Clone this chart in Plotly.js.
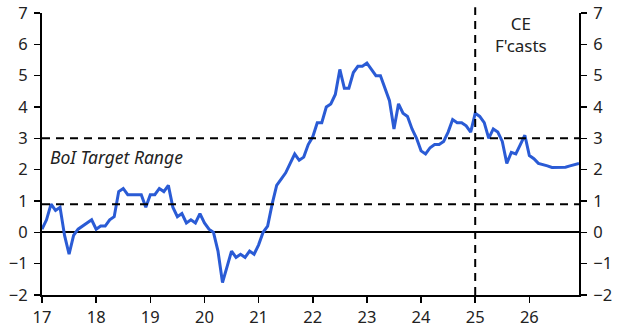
<!DOCTYPE html>
<html><head><meta charset="utf-8">
<script src="https://cdn.plot.ly/plotly-3.0.1.min.js"></script>
<style>body{margin:0;padding:0;background:#fff}#chart{width:624px;height:336px}</style>
</head><body><div id="chart"></div>
<script>
// Israel CPI inflation (% y/y), monthly Jan 2017 – Dec 2026 (CE forecasts from 2025)
var startYear = 17;
var inflation2017 = [0.1, 0.4, 0.9, 0.7, 0.8, -0.1, -0.7, -0.1, 0.1, 0.2, 0.3, 0.4];
var inflation2018 = [0.1, 0.2, 0.2, 0.4, 0.5, 1.3, 1.4, 1.2, 1.2, 1.2, 1.2, 0.8];
var inflation2019 = [1.2, 1.2, 1.4, 1.3, 1.5, 0.8, 0.5, 0.6, 0.3, 0.4, 0.3, 0.6];
var inflation2020 = [0.3, 0.1, 0.0, -0.6, -1.6, -1.1, -0.6, -0.8, -0.7, -0.8, -0.6, -0.7];
var inflation2021 = [-0.4, 0.0, 0.2, 0.9, 1.5, 1.7, 1.9, 2.2, 2.5, 2.3, 2.4, 2.8];
var inflation2022 = [3.05, 3.5, 3.5, 4.0, 4.1, 4.4, 5.2, 4.6, 4.6, 5.1, 5.3, 5.3];
var inflation2023 = [5.4, 5.2, 5.0, 5.0, 4.6, 4.2, 3.3, 4.1, 3.8, 3.7, 3.3, 3.0];
var inflation2024 = [2.6, 2.5, 2.7, 2.8, 2.8, 2.9, 3.2, 3.6, 3.5, 3.5, 3.4, 3.2];
var inflation2025 = [3.8, 3.7, 3.5, 3.0, 3.3, 3.2, 2.9, 2.2, 2.55, 2.5, 2.8, 3.1];
var inflation2026 = [2.45, 2.35, 2.2, 2.17, 2.12, 2.07, 2.08, 2.08, 2.08, 2.12, 2.17, 2.2];
var targetLow = 0.9;
var targetHigh = 3;
var forecastStart = 25;
var xTickVals = [17, 18, 19, 20, 21, 22, 23, 24, 25, 26];
var xTickText = ["17", "18", "19", "20", "21", "22", "23", "24", "25", "26"];
var yTickVals = [-2, -1, 0, 1, 2, 3, 4, 5, 6, 7];

var values = [].concat(inflation2017, inflation2018, inflation2019, inflation2020, inflation2021,
  inflation2022, inflation2023, inflation2024, inflation2025, inflation2026);
var dates = values.map(function (v, i) { return startYear + i / 12; });
var xEnd = dates[dates.length - 1];

var fontFam = "'Noto Sans', 'Open Sans', sans-serif";
var axisFont = {family: fontFam, size: 16.5, color: '#222'};

var traces = [
  {x: dates, y: values, type: 'scatter', mode: 'lines',
   line: {color: '#2a5bd5', width: 3}, hoverinfo: 'skip', showlegend: false},
  {x: dates, y: values, type: 'scatter', mode: 'lines', yaxis: 'y2',
   line: {color: 'rgba(0,0,0,0)', width: 0}, hoverinfo: 'skip', showlegend: false}
];

var dashLine = {color: '#000', width: 2, dash: '8px,6px'};
var layout = {
  width: 624, height: 336,
  margin: {l: 42, r: 45, t: 13, b: 41},
  paper_bgcolor: '#fff', plot_bgcolor: '#fff',
  showlegend: false,
  xaxis: {
    range: [startYear, xEnd], tickvals: xTickVals, ticktext: xTickText,
    showgrid: false, zeroline: false, showline: true, linecolor: '#000', linewidth: 2,
    ticks: 'outside', ticklen: 6, tickwidth: 1.5, tickcolor: '#000',
    tickfont: axisFont, mirror: false
  },
  yaxis: {
    range: [-2, 7], tickvals: yTickVals, showgrid: false,
    zeroline: true, zerolinecolor: '#000', zerolinewidth: 2,
    showline: true, linecolor: '#000', linewidth: 2,
    ticks: 'outside', ticklen: 6, tickwidth: 1.5, tickcolor: '#000',
    tickfont: axisFont, ticklabelstandoff: 3
  },
  yaxis2: {
    range: [-2, 7], tickvals: yTickVals, overlaying: 'y', side: 'right',
    showgrid: false, zeroline: false, showline: true, linecolor: '#000', linewidth: 2,
    ticks: 'outside', ticklen: 6, tickwidth: 1.5, tickcolor: '#000',
    tickfont: axisFont, ticklabelstandoff: 3
  },
  shapes: [
    {type: 'line', xref: 'paper', x0: 0, x1: 1, yref: 'y', y0: targetHigh, y1: targetHigh, line: dashLine},
    {type: 'line', xref: 'paper', x0: 0, x1: 1, yref: 'y', y0: targetLow, y1: targetLow, line: dashLine},
    {type: 'line', xref: 'x', x0: forecastStart, x1: forecastStart, yref: 'paper', y0: 0, y1: 1.02, line: dashLine}
  ],
  annotations: [
    {text: 'BoI Target Range', xref: 'paper', x: 0.012, xanchor: 'left', yref: 'y', y: 2.4, yanchor: 'middle',
     showarrow: false, font: {family: fontFam, size: 17.5, color: '#222', style: 'italic'}},
    {text: 'CE<br>F\'casts', xref: 'x', x: 25.85, xanchor: 'center', yref: 'paper', y: 1.01, yanchor: 'top',
     showarrow: false, align: 'center', font: {family: fontFam, size: 17, color: '#222'}}
  ]
};

Plotly.newPlot('chart', traces, layout, {staticPlot: true, displayModeBar: false});
</script>
</body></html>
